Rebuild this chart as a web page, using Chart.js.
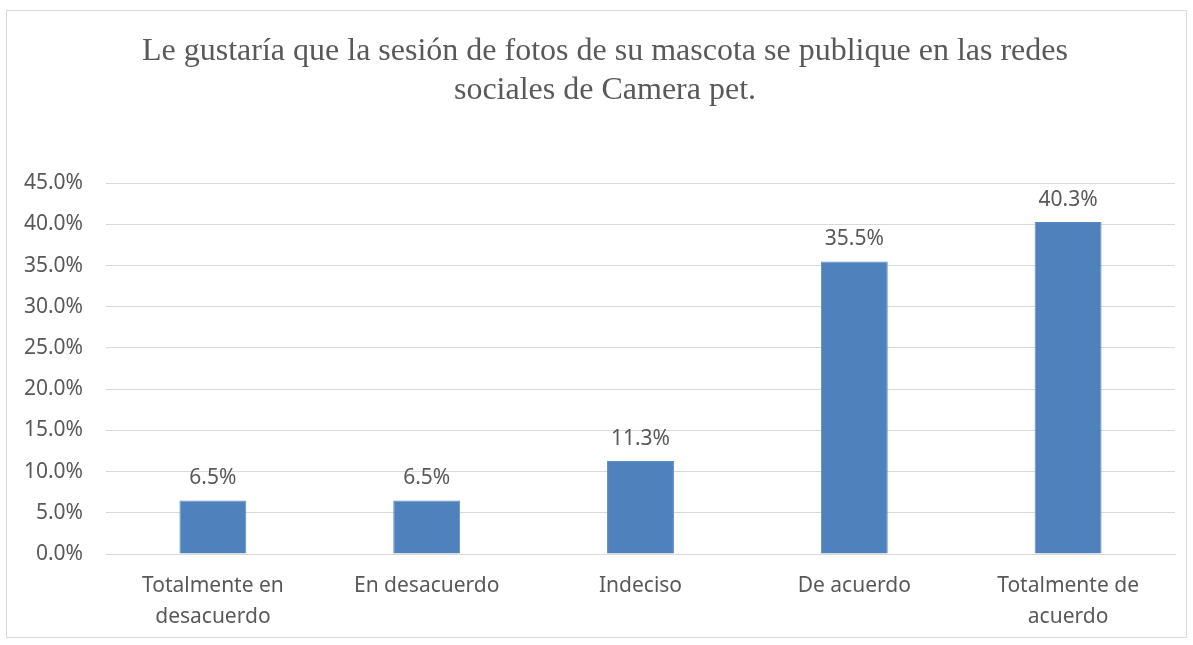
<!DOCTYPE html>
<html>
<head>
<meta charset="utf-8">
<script src="https://cdn.jsdelivr.net/npm/chart.js@4.4.1/dist/chart.umd.min.js"></script>
<style>
  html, body { margin: 0; padding: 0; background: #fff; }
  #box {
    position: absolute; left: 6px; top: 10px;
    width: 1181px; height: 628px;
    box-sizing: border-box; border: 1px solid #d9d9d9;
  }
</style>
</head>
<body>
<div id="box"><canvas id="chart"></canvas></div>
<script>
const categories = [['Totalmente en', 'desacuerdo'], 'En desacuerdo', 'Indeciso', 'De acuerdo', ['Totalmente de', 'acuerdo']];
const percentages = [6.5, 6.5, 11.3, 35.5, 40.3];
const titleLines = ['Le gustaría que la sesión de fotos de su mascota se publique en las redes', 'sociales de Camera pet.'];

const textColor = '#595959';
const gridColor = '#d9d9d9';

// draws the value above each bar
const barValues = {
  id: 'barValues',
  afterDatasetsDraw(chart) {
    const ctx = chart.ctx;
    ctx.save();
    ctx.font = '21px "Noto Sans"';
    ctx.fillStyle = textColor;
    ctx.textAlign = 'center';
    ctx.textBaseline = 'middle';
    chart.getDatasetMeta(0).data.forEach((bar, i) => {
      ctx.fillText(percentages[i].toFixed(1) + '%', bar.x, bar.y - 22);
    });
    ctx.restore();
  }
};

// the title sits a bit right of the canvas centre in the original
const titleShift = {
  id: 'titleShift',
  afterLayout(chart) {
    if (chart.titleBlock) {
      chart.titleBlock.left += 14;
      chart.titleBlock.right += 14;
    }
  }
};

new Chart(document.getElementById('chart'), {
  type: 'bar',
  data: {
    labels: categories,
    datasets: [{
      data: percentages,
      backgroundColor: '#4f81bd',
      borderColor: '#5b8cc6',
      borderWidth: 1,
      barPercentage: 0.313,
      categoryPercentage: 1
    }]
  },
  options: {
    responsive: true,
    maintainAspectRatio: false,
    animation: false,
    layout: { padding: { left: 0, right: 11, top: 0, bottom: 0 } },
    scales: {
      x: {
        grid: { display: false, drawTicks: false },
        border: { display: true, color: gridColor, width: 1 },
        ticks: {
          color: textColor,
          font: { family: 'Noto Sans', size: 21, lineHeight: 1.48 },
          padding: 16,
          maxRotation: 0,
          autoSkip: false
        },
        afterFit(scale) { scale.height = 83; }
      },
      y: {
        min: 0,
        max: 45,
        grid: { color: gridColor, drawTicks: false },
        border: { display: false },
        ticks: {
          stepSize: 5,
          color: textColor,
          font: { family: 'Noto Sans', size: 21 },
          padding: 23,
          callback: (v) => v.toFixed(1) + '%'
        },
        afterFit(scale) { scale.width = 99; }
      }
    },
    plugins: {
      legend: { display: false },
      tooltip: { enabled: false },
      title: {
        display: true,
        text: titleLines,
        color: textColor,
        font: { family: 'Liberation Serif', size: 32, weight: 'normal', lineHeight: 1.19 },
        padding: { top: 22, bottom: 74 }
      }
    }
  },
  plugins: [barValues, titleShift]
});
</script>
</body>
</html>
